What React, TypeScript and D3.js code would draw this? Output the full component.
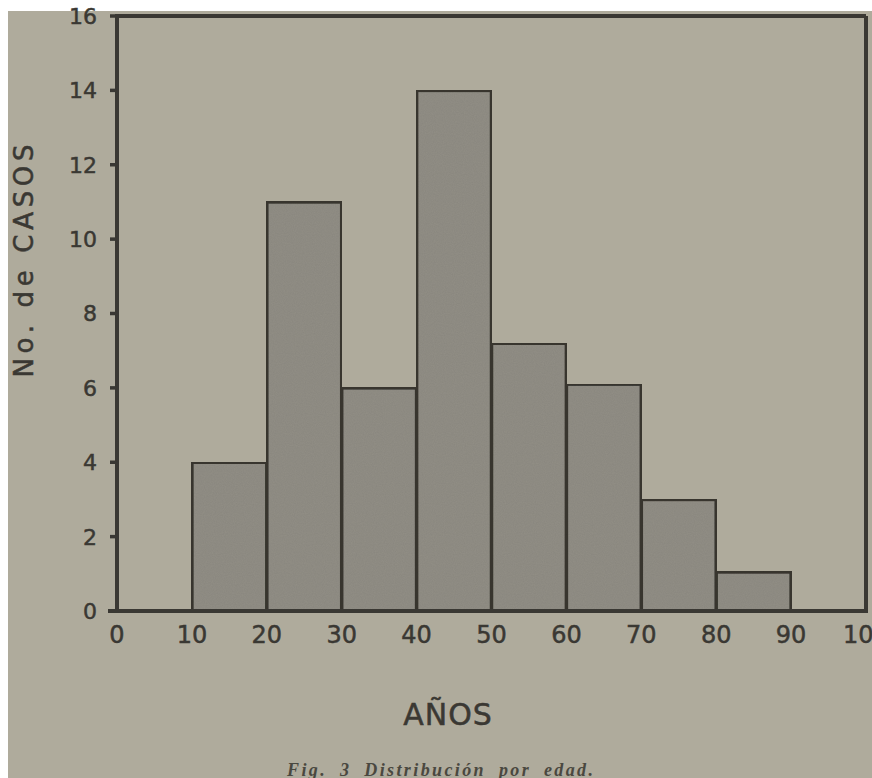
import React from "react";
import * as d3 from "d3";

const binStarts = [10, 20, 30, 40, 50, 60, 70, 80];
const binWidth = 10;
const counts = [4, 11, 6, 14, 7.2, 6.1, 3, 1.05];
const xTicks = [0, 10, 20, 30, 40, 50, 60, 70, 80, 90, 100];
const yTicks = [0, 2, 4, 6, 8, 10, 12, 14, 16];
const xTitle = "AÑOS";
const yTitle = "No. de CASOS";
const caption = "Fig. 3 Distribución por edad.";

const W = 872;
const H = 778;
const paper = "#afab9c";
const ink = "#3a3833";
const barFill = "#928f86";

export default function App() {
  const x = d3.scaleLinear().domain([0, 100]).range([117, 866]);
  const y = d3.scaleLinear().domain([0, 16]).range([611, 16]);
  const font = "'DejaVu Sans', sans-serif";
  return (
    <svg
      width={W}
      height={H}
      style={{ position: "absolute", left: 0, top: 0, display: "block" }}
    >
      <defs>
        <filter id="grain" x="0" y="0" width="100%" height="100%">
          <feTurbulence type="fractalNoise" baseFrequency="0.9" numOctaves="2" seed="3" result="n" />
          <feColorMatrix type="matrix" values="0 0 0 0 0  0 0 0 0 0  0 0 0 0 0  0 0 0 0.12 0" in="n" result="a" />
          <feComposite in="a" in2="SourceGraphic" operator="in" result="b" />
          <feMerge>
            <feMergeNode in="SourceGraphic" />
            <feMergeNode in="b" />
          </feMerge>
        </filter>
      </defs>
      <rect x={0} y={0} width={W} height={H} fill="#ffffff" />
      <rect x={8} y={11} width={W - 8} height={H - 11} fill={paper} />

      {/* bars */}
      {binStarts.map((s, i) => (
        <rect
          key={s}
          x={x(s)}
          y={y(counts[i])}
          width={x(s + binWidth) - x(s)}
          height={y(0) - y(counts[i])}
          fill={barFill}
          stroke={ink}
          strokeWidth={3.5}
          filter="url(#grain)"
        />
      ))}

      {/* frame */}
      <line x1={x(0)} x2={x(100)} y1={y(16)} y2={y(16)} stroke={ink} strokeWidth={4} />
      <line x1={x(100)} x2={x(100)} y1={y(16)} y2={y(0)} stroke={ink} strokeWidth={4} />
      <line x1={x(0)} x2={x(0)} y1={y(16) - 2} y2={y(0) + 2} stroke={ink} strokeWidth={4} />
      <line x1={x(0) - 9} x2={x(100) + 2} y1={y(0)} y2={y(0)} stroke={ink} strokeWidth={4} />

      {/* y ticks */}
      {yTicks.map((t) => (
        <g key={t}>
          <line x1={x(0) - 7} x2={x(0)} y1={y(t)} y2={y(t)} stroke={ink} strokeWidth={3.5} />
          <text
            x={x(0) - 20}
            y={y(t)}
            dy="0.36em"
            textAnchor="end"
            fontFamily={font}
            fontSize={22}
            fill={ink}
            stroke={ink}
            strokeWidth={0.5}
          >
            {t}
          </text>
        </g>
      ))}

      {/* x tick labels */}
      {xTicks.map((t) => (
        <text
          key={t}
          x={x(t)}
          y={643}
          textAnchor="middle"
          fontFamily={font}
          fontSize={24}
          fill={ink}
          stroke={ink}
          strokeWidth={0.5}
        >
          {t}
        </text>
      ))}

      <text
        x={448}
        y={725}
        textAnchor="middle"
        fontFamily={font}
        fontSize={30}
        fill={ink}
        stroke={ink}
        strokeWidth={0.5}
        letterSpacing={1}
      >
        {xTitle}
      </text>

      <text
        transform={`translate(33, 261) rotate(-90)`}
        textAnchor="middle"
        fontFamily={font}
        fontSize={26}
        fill={ink}
        stroke={ink}
        strokeWidth={0.5}
        textLength={233}
        lengthAdjust="spacing"
      >
        {yTitle}
      </text>

      <text
        x={440}
        y={776}
        textAnchor="middle"
        fontFamily="'Liberation Serif', serif"
        fontStyle="italic"
        fontWeight="bold"
        fontSize={18}
        fill="#4a4840"
        wordSpacing={6}
        textLength={306}
        lengthAdjust="spacing"
      >
        {caption}
      </text>
    </svg>
  );
}
